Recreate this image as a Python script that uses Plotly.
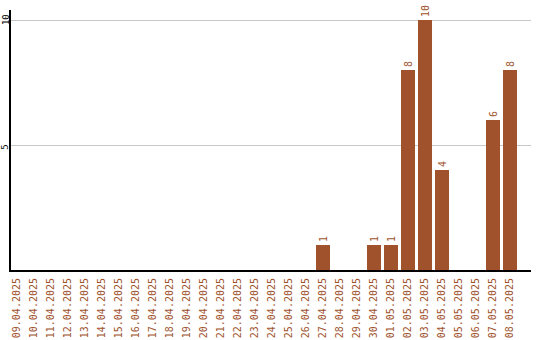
import plotly.graph_objects as go
import datetime as dt

start = dt.date(2025, 4, 9)
dates = [(start + dt.timedelta(days=i)).strftime("%d.%m.%Y") for i in range(30)]
counts = [0]*18 + [1, 0, 0, 1, 1, 8, 10, 4, 0, 0, 6, 8]
labels = [str(c) if c else "" for c in counts]
ytick_vals = [5, 10]

color = "#A0522D"
fnt = "DejaVu Sans Mono"

fig = go.Figure(go.Bar(
    x=list(range(len(dates))), y=counts, marker=dict(color=color, line=dict(width=0)),
    text=labels, textposition="outside", textangle=-90,
    textfont=dict(family=fnt, size=10, color=color), cliponaxis=False,
))
fig.update_layout(
    width=540, height=340, margin=dict(l=11, r=9, t=10, b=70, autoexpand=False),
    plot_bgcolor="white", paper_bgcolor="white", showlegend=False, bargap=0.176,
)
fig.update_xaxes(
    tickmode="array", tickvals=list(range(len(dates))), ticktext=dates,
    range=[-0.353, 30.235], tickangle=-90, showgrid=False, showline=True,
    linecolor="black", linewidth=2, ticks="", ticklabelstandoff=2,
    tickfont=dict(family=fnt, size=10, color=color), automargin=False,
)
fig.update_yaxes(
    range=[0, 10.4], tickvals=ytick_vals, showticklabels=False, showgrid=True,
    gridcolor="#c8c8c8", gridwidth=1, showline=True, linecolor="black", linewidth=2,
    ticks="", zeroline=False, automargin=False,
)
fs = 9
for v in ytick_vals:
    txt = str(v)
    half = len(txt) * fs * 0.6 / 2
    fig.add_annotation(
        x=0, xref="paper", y=v, yref="y", text=txt, showarrow=False,
        textangle=-90, xanchor="center", yanchor="middle", xshift=-5.5,
        yshift=half - 5, font=dict(family=fnt, size=fs, color="black"),
    )
fig.write_html("out.html")
